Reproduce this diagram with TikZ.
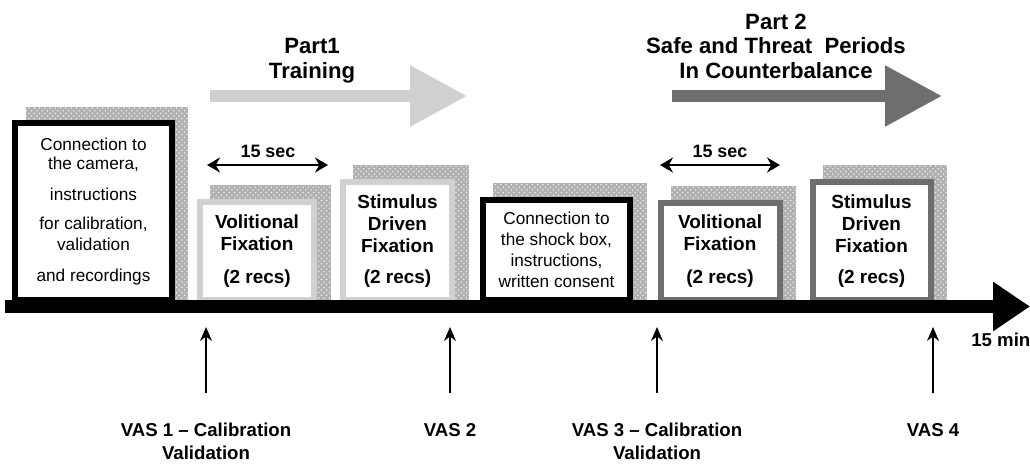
\documentclass[tikz,border=0pt]{standalone}
\usepackage{fontspec}
\setmainfont{Liberation Sans}
\usetikzlibrary{arrows.meta,patterns,backgrounds}

\definecolor{lightbar}{HTML}{D0D0D0}
\definecolor{darkbar}{HTML}{6E6E6E}

\begin{document}
\begin{tikzpicture}[x=0.02cm, y=-0.02cm,
    box/.style={draw, line width=0.12cm, fill=white, anchor=south, inner sep=0pt, align=center},
    plain/.style={font=\fontsize{9.8}{11.3}\selectfont},
    bold/.style={font=\bfseries\fontsize{10.8}{12.5}\selectfont},
    halftone/.style={fill=gray!62, postaction={pattern=crosshatch dots, pattern color=gray!15}},
    parttext/.style={align=center, inner sep=0pt, font=\bfseries\fontsize{12.6}{14}\selectfont},
    partarrow/.style={line width=0.24cm, -{Triangle[length=1.14cm,width=1.16cm]}},
    span/.style={line width=0.04cm, {Stealth[length=0.26cm,width=0.3cm]}-{Stealth[length=0.26cm,width=0.3cm]}},
    spanlabel/.style={inner sep=0pt, font=\bfseries\fontsize{10.2}{12}\selectfont},
    vaslabel/.style={anchor=north, align=center, inner sep=0pt, font=\bfseries\fontsize{10.6}{13}\selectfont},
    vasarrow/.style={line width=0.025cm, shorten <=0.6cm, -{Stealth[length=0.28cm,width=0.24cm]}}]

  \useasboundingbox (0,0) rectangle (1030,464);

  % session blocks
  \node[box, plain, minimum width=3.14cm, minimum height=3.54cm] (cam) at (93.5,303)
    {Connection to\\ the camera,\\[6.2pt] instructions\\[5pt] for calibration,\\[0.6pt] validation\\[6.8pt] and recordings};
  \node[box, bold, draw=lightbar, minimum width=2.3cm, minimum height=1.97cm] (vol1) at (257,303)
    {Volitional\\ Fixation\\[6.2pt] (2 recs)};
  \node[box, bold, draw=lightbar, minimum width=2.2cm, minimum height=2.37cm] (stim1) at (397.5,303)
    {Stimulus\\ Driven\\ Fixation\\[5pt] (2 recs)};
  \node[box, plain, font=\fontsize{9.8}{11.9}\selectfont, minimum width=2.96cm, minimum height=2.01cm] (shock) at (556.5,303)
    {Connection to\\ the shock box,\\ instructions,\\ written consent};
  \node[box, bold, draw=darkbar, minimum width=2.38cm, minimum height=1.95cm] (vol2) at (720,303)
    {Volitional\\ Fixation\\[6.2pt] (2 recs)};
  \node[box, bold, draw=darkbar, minimum width=2.36cm, minimum height=2.37cm] (stim2) at (871.5,303)
    {Stimulus\\ Driven\\ Fixation\\[5pt] (2 recs)};

  % dotted shadows behind the blocks
  \begin{scope}[on background layer]
    \foreach \b in {cam,vol1,stim1,shock,vol2,stim2}
      \fill[halftone] ([xshift=0.27cm]\b.south west) rectangle ([shift={(0.27cm,0.27cm)}]\b.north east);
  \end{scope}

  % time axis
  \coordinate (t0) at (5,306.5);
  \coordinate (t1) at (1030,306.5);
  \draw[line width=0.26cm, -{Triangle[length=0.74cm,width=0.94cm]}] (t0) -- (t1);
  \node[anchor=west, inner sep=0pt, font=\bfseries\fontsize{10.6}{13}\selectfont] (end) at (971,340) {15 min};

  % the two parts
  \node[parttext] (part1) at (312,61) {Part1\\Training};
  \coordinate (p1a) at (210,96);
  \coordinate (p1b) at (467,96);
  \draw[partarrow, lightbar] (p1a) -- (p1b);

  \node[parttext] (part2) at (776,46) {Part 2\\Safe and Threat~~Periods\\In Counterbalance};
  \coordinate (p2a) at (672,96);
  \coordinate (p2b) at (942,96);
  \draw[partarrow, darkbar] (p2a) -- (p2b);

  % 15 sec spans
  \coordinate (s1a) at (207,165);
  \coordinate (s1b) at (328,165);
  \draw[span] (s1a) -- (s1b);
  \node[spanlabel] (sec1) at (268,151) {15 sec};

  \coordinate (s2a) at (660,165);
  \coordinate (s2b) at (780,165);
  \draw[span] (s2a) -- (s2b);
  \node[spanlabel] (sec2) at (720,151) {15 sec};

  % rating points
  \node[vaslabel] (vas1) at (206,423) {VAS 1 -- Calibration\\ Validation};
  \node[vaslabel] (vas2) at (450,423) {VAS 2};
  \node[vaslabel] (vas3) at (657,423) {VAS 3 -- Calibration\\ Validation};
  \node[vaslabel] (vas4) at (933,423) {VAS 4};
  \foreach \v in {1,...,4} {
    \coordinate (top\v) at (vas\v.north |- 0,327);
    \draw[vasarrow] (vas\v.north) -- (top\v);
  }
\end{tikzpicture}
\end{document}
